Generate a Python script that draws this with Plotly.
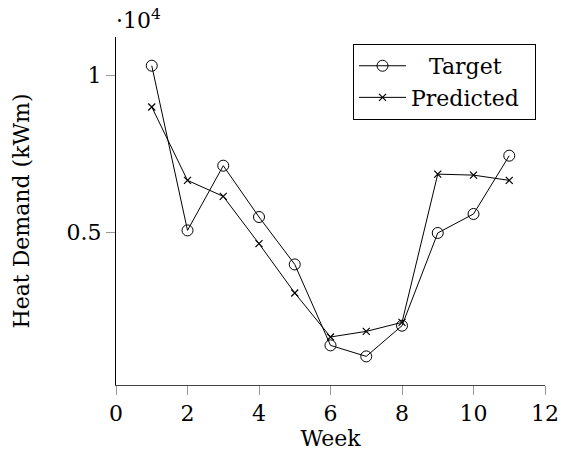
import plotly.graph_objects as go

# Weekly heat demand, actual vs. model output
weeks = [1, 2, 3, 4, 5, 6, 7, 8, 9, 10, 11]
target = [10297, 5051, 7112, 5478, 3968, 1389, 1038, 2016, 4969, 5574, 7431]
predicted = [8982, 6644, 6134, 4628, 3058, 1656, 1835, 2121, 6843, 6812, 6644]

x_ticks = [0, 2, 4, 6, 8, 10, 12]
y_ticks = [5000, 10000]
y_tick_labels = ["0.5", "1"]

FONT = "DejaVu Serif"
SIZE = 22

fig = go.Figure()
fig.add_trace(go.Scatter(
    # en space + no-break space push the shorter label toward the centre
    x=weeks, y=target, name="\u2002\u00a0Target", mode="lines+markers",
    line=dict(color="black", width=1),
    marker=dict(symbol="circle-open", size=11, color="black", line=dict(width=1)),
))
fig.add_trace(go.Scatter(
    # trailing en space gives the legend box some right-hand padding
    x=weeks, y=predicted, name="Predicted\u2002", mode="lines+markers",
    line=dict(color="black", width=1),
    marker=dict(symbol="x-thin-open", size=7, color="black", line=dict(width=1.2)),
))

fig.update_layout(
    width=561, height=459,
    margin=dict(l=116, r=16, t=37, b=74),
    paper_bgcolor="white", plot_bgcolor="white",
    font=dict(family=FONT, size=SIZE, color="black"),
    showlegend=True,
    legend=dict(
        x=0.5525, y=0.98, xanchor="left", yanchor="top",
        bordercolor="black", borderwidth=1, bgcolor="white",
        font=dict(family=FONT, size=SIZE),
        itemwidth=47, tracegroupgap=0,
    ),
    xaxis=dict(
        range=[0, 12], tickvals=x_ticks, showgrid=False, zeroline=False,
        showline=True, linecolor="#444", linewidth=1,
        ticks="outside", ticklen=9, tickcolor="#999",
        title=dict(text="Week", standoff=2, font=dict(size=SIZE)),
        tickfont=dict(size=SIZE), automargin=False,
    ),
    yaxis=dict(
        range=[127, 11211], tickvals=y_ticks, ticktext=y_tick_labels,
        showgrid=False, zeroline=False,
        showline=True, linecolor="black", linewidth=1,
        ticks="outside", ticklen=9, tickcolor="#999",
        title=dict(text="Heat Demand (kWm)", standoff=30, font=dict(size=SIZE)),
        tickfont=dict(size=SIZE), automargin=False,
    ),
)

fig.add_annotation(
    x=0, y=1, xref="paper", yref="paper", xanchor="left", yanchor="bottom",
    xshift=-2, yshift=2,
    text="·10<sup>4</sup>", showarrow=False, font=dict(family=FONT, size=SIZE),
)

fig.write_html("out.html")
